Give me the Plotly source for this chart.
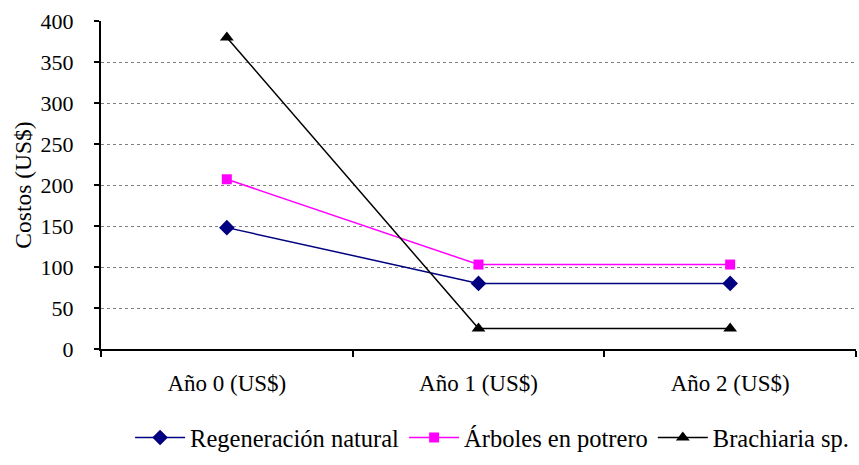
import plotly.graph_objects as go

# Cost per year for each land-use option
anios = ["Año 0 (US$)", "Año 1 (US$)", "Año 2 (US$)"]
regeneracion = [148, 80, 80]
arboles = [207, 103, 103]
brachiaria = [380, 25, 25]

series = [
    ("Regeneración natural", regeneracion, "#000080", "diamond", 12),
    ("Árboles en potrero", arboles, "#FF00FF", "square", 10),
    ("Brachiaria sp.", brachiaria, "#000000", "triangle-up", 12),
]

FONT = "Liberation Serif"

fig = go.Figure()
for nombre, valores, color, simbolo, tam in series:
    fig.add_trace(go.Scatter(
        x=anios, y=valores, name=nombre, mode="lines+markers",
        line=dict(color=color, width=1.5),
        marker=dict(symbol=simbolo, size=tam, color=color),
    ))

fig.update_layout(
    width=859, height=465,
    margin=dict(l=101, r=3, t=21, b=116),
    paper_bgcolor="white", plot_bgcolor="white",
    font=dict(family=FONT, size=23, color="black"),
    showlegend=True,
    legend=dict(orientation="h", x=0.518, xanchor="center", y=-0.27, yanchor="middle",
                font=dict(family=FONT, size=24.5), itemwidth=50, tracegroupgap=0),
)
fig.update_xaxes(
    type="category", range=[-0.5, 2.5],
    showline=True, linecolor="black", linewidth=2,
    ticks="outside", tickson="boundaries", ticklen=6, tickwidth=1.5, tickcolor="black",
    showgrid=False, ticklabelstandoff=12,
    tickfont=dict(family=FONT, size=23),
)
fig.update_yaxes(
    range=[0, 400], dtick=50,
    showline=True, linecolor="black", linewidth=2,
    ticks="outside", ticklen=5, tickwidth=1.5, tickcolor="black",
    showgrid=True, gridcolor="#808080", gridwidth=1, griddash="dot",
    zeroline=False, ticklabelstandoff=16,
    tickfont=dict(family=FONT, size=22),
    title=dict(text="Costos (US$)", standoff=2, font=dict(family=FONT, size=23.5)),
)

fig.write_html("out.html")
